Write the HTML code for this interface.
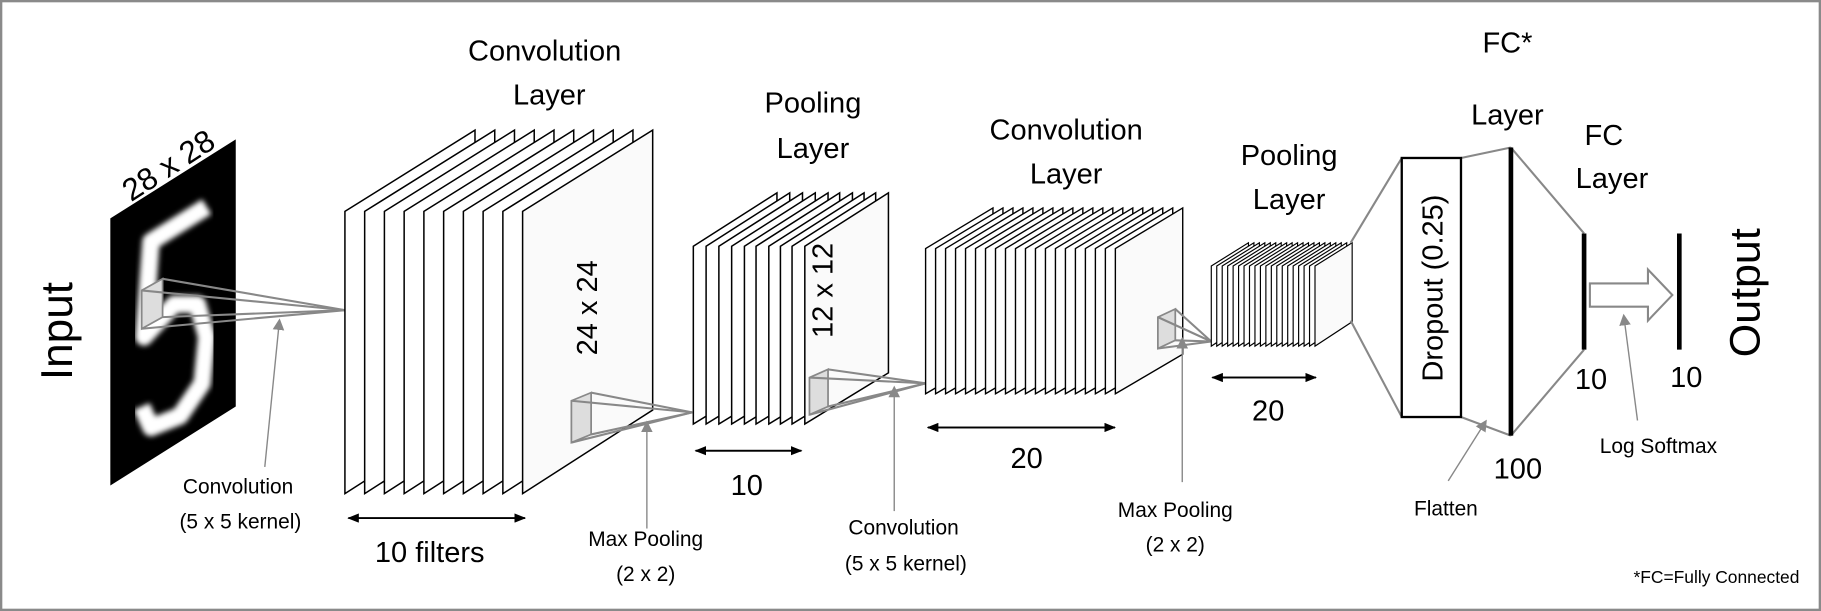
<!DOCTYPE html>
<html><head><meta charset="utf-8"><style>
html,body{margin:0;padding:0;background:#fff;}
svg{display:block;}
text{font-family:"Liberation Sans",sans-serif;fill:#000;}
</style></head><body>
<svg width="1821" height="611" viewBox="0 0 1568 526" preserveAspectRatio="none" xmlns="http://www.w3.org/2000/svg">
<defs>
<marker id="ah" markerWidth="10" markerHeight="8" refX="9" refY="4" orient="auto" markerUnits="userSpaceOnUse"><path d="M0,0 L10,4 L0,8 z" fill="#000"/></marker>
<marker id="ga" markerWidth="10" markerHeight="14" refX="2" refY="7" orient="auto" markerUnits="userSpaceOnUse"><path d="M10,7 L0,2 L0,12 z" fill="#888"/></marker>
<filter id="bl"><feGaussianBlur stdDeviation="2.2"/></filter>
<clipPath id="inclip"><polygon points="95,188 203,120 203,350 95,418"/></clipPath>
</defs>
<rect x="1" y="1" width="1566" height="524" fill="#fff" stroke="#8a8a8a" stroke-width="2"/>

<!-- Input -->
<polygon points="95,188 203,120 203,350 95,418" fill="#000"/>
<g clip-path="url(#inclip)">
<path d="M178,178 L130,208 L124,290 L150,262 L170,262 L178,290 L174,330 L155,358 L130,368 L122,350" fill="none" stroke="#fff" stroke-width="15" stroke-linejoin="round" filter="url(#bl)"/>
</g>
<text x="0" y="0" font-size="27" transform="translate(150,150) rotate(-33)" text-anchor="middle">28 x 28</text>
<text x="0" y="0" font-size="38" transform="translate(62,285) rotate(-90)" text-anchor="middle">Input</text>
<polygon points="122,250 140,240 140,273 122,283" fill="#ddd" stroke="#888" stroke-width="1.5"/>
<g stroke="#888" stroke-width="1.8" fill="none">
<line x1="122" y1="250" x2="297" y2="267"/><line x1="140" y1="240" x2="297" y2="267"/>
<line x1="140" y1="273" x2="297" y2="267"/><line x1="122" y1="283" x2="297" y2="267"/>
</g>
<line x1="228" y1="402" x2="240" y2="282" stroke="#888" stroke-width="1.2" marker-end="url(#ga)"/>
<text x="205" y="425" font-size="18" text-anchor="middle">Convolution</text>
<text x="207" y="455" font-size="18" text-anchor="middle">(5 x 5 kernel)</text>

<!-- Conv layer 1 -->
<g stroke="#000" stroke-width="1.3" fill="#fff">
<polygon points="297,182 409,112 409,353 297,425"/>
<polygon points="314,182 426,112 426,353 314,425"/>
<polygon points="331,182 443,112 443,353 331,425"/>
<polygon points="348,182 460,112 460,353 348,425"/>
<polygon points="365,182 477,112 477,353 365,425"/>
<polygon points="382,182 494,112 494,353 382,425"/>
<polygon points="399,182 511,112 511,353 399,425"/>
<polygon points="416,182 528,112 528,353 416,425"/>
<polygon points="433,182 545,112 545,353 433,425"/>
<polygon points="450,182 562,112 562,353 450,425" fill="#fafafa"/>
</g>
<text x="469" y="52" font-size="25" text-anchor="middle">Convolution</text>
<text x="473" y="90" font-size="25" text-anchor="middle">Layer</text>
<text x="0" y="0" font-size="25" transform="translate(514,265) rotate(-90)" text-anchor="middle">24 x 24</text>
<line x1="300" y1="446" x2="452" y2="446" stroke="#000" stroke-width="1.5" marker-end="url(#ah)"/>
<line x1="452" y1="446" x2="300" y2="446" stroke="#000" stroke-width="1.5" marker-end="url(#ah)"/>
<text x="370" y="484" font-size="25" text-anchor="middle">10 filters</text>

<polygon points="492,345 509,338 509,374 492,381" fill="#ddd" stroke="#888" stroke-width="1.5"/>
<g stroke="#888" stroke-width="1.8">
<line x1="492" y1="345" x2="596" y2="355"/><line x1="509" y1="338" x2="596" y2="355"/>
<line x1="509" y1="374" x2="596" y2="355"/><line x1="492" y1="381" x2="596" y2="355"/>
</g>
<line x1="557" y1="455" x2="557" y2="370" stroke="#888" stroke-width="1.2" marker-end="url(#ga)"/>
<text x="556" y="470" font-size="18" text-anchor="middle">Max Pooling</text>
<text x="556" y="500" font-size="18" text-anchor="middle">(2 x 2)</text>

<!-- Pool layer 1 -->
<g stroke="#000" stroke-width="1.3" fill="#fff">
<polygon points="597,212 669,166 669,321 597,365"/>
<polygon points="608,212 680,166 680,321 608,365"/>
<polygon points="619,212 691,166 691,321 619,365"/>
<polygon points="630,212 702,166 702,321 630,365"/>
<polygon points="641,212 713,166 713,321 641,365"/>
<polygon points="651,212 723,166 723,321 651,365"/>
<polygon points="662,212 734,166 734,321 662,365"/>
<polygon points="672,212 744,166 744,321 672,365"/>
<polygon points="682,212 754,166 754,321 682,365"/>
<polygon points="693,212 765,166 765,321 693,365" fill="#fafafa"/>
</g>
<text x="700" y="97" font-size="25" text-anchor="middle">Pooling</text>
<text x="700" y="136" font-size="25" text-anchor="middle">Layer</text>
<text x="0" y="0" font-size="25" transform="translate(717,250) rotate(-90)" text-anchor="middle">12 x 12</text>
<line x1="599" y1="388" x2="690" y2="388" stroke="#000" stroke-width="1.5" marker-end="url(#ah)"/>
<line x1="690" y1="388" x2="599" y2="388" stroke="#000" stroke-width="1.5" marker-end="url(#ah)"/>
<text x="643" y="426" font-size="25" text-anchor="middle">10</text>

<polygon points="697,325 713,318 713,350 697,357" fill="#ddd" stroke="#888" stroke-width="1.5"/>
<g stroke="#888" stroke-width="1.8">
<line x1="697" y1="325" x2="797" y2="330"/><line x1="713" y1="318" x2="797" y2="330"/>
<line x1="713" y1="350" x2="797" y2="330"/><line x1="697" y1="357" x2="797" y2="330"/>
</g>
<line x1="770" y1="440" x2="770" y2="340" stroke="#888" stroke-width="1.2" marker-end="url(#ga)"/>
<text x="778" y="460" font-size="18" text-anchor="middle">Convolution</text>
<text x="780" y="491" font-size="18" text-anchor="middle">(5 x 5 kernel)</text>

<g stroke="#000" stroke-width="1.2" fill="#fff" id="c2"></g>
<text x="918" y="120" font-size="25" text-anchor="middle">Convolution</text>
<text x="918" y="158" font-size="25" text-anchor="middle">Layer</text>
<line x1="799" y1="368" x2="960" y2="368" stroke="#000" stroke-width="1.5" marker-end="url(#ah)"/>
<line x1="960" y1="368" x2="799" y2="368" stroke="#000" stroke-width="1.5" marker-end="url(#ah)"/>
<text x="884" y="403" font-size="25" text-anchor="middle">20</text>

<polygon points="997,273 1012,266 1012,293 997,300" fill="#ddd" stroke="#888" stroke-width="1.5"/>
<g stroke="#888" stroke-width="1.8">
<line x1="997" y1="273" x2="1043" y2="294"/><line x1="1012" y1="266" x2="1043" y2="294"/>
<line x1="1012" y1="293" x2="1043" y2="294"/><line x1="997" y1="300" x2="1043" y2="294"/>
</g>
<line x1="1018" y1="415" x2="1018" y2="298" stroke="#888" stroke-width="1.2" marker-end="url(#ga)"/>
<text x="1012" y="445" font-size="18" text-anchor="middle">Max Pooling</text>
<text x="1012" y="475" font-size="18" text-anchor="middle">(2 x 2)</text>

<g stroke="#000" stroke-width="1" fill="#fff" id="p2"></g>
<text x="1110" y="142" font-size="25" text-anchor="middle">Pooling</text>
<text x="1110" y="180" font-size="25" text-anchor="middle">Layer</text>
<line x1="1044" y1="325" x2="1133" y2="325" stroke="#000" stroke-width="1.5" marker-end="url(#ah)"/>
<line x1="1133" y1="325" x2="1044" y2="325" stroke="#000" stroke-width="1.5" marker-end="url(#ah)"/>
<text x="1092" y="362" font-size="25" text-anchor="middle">20</text>

<g stroke="#888" stroke-width="1.8">
<line x1="1163" y1="209" x2="1207" y2="136"/><line x1="1163" y1="276" x2="1207" y2="359"/>
<line x1="1258" y1="136" x2="1301" y2="127"/><line x1="1258" y1="359" x2="1301" y2="375"/>
<line x1="1301" y1="127" x2="1364" y2="201"/><line x1="1301" y1="375" x2="1364" y2="301"/>
</g>
<rect x="1207" y="136" width="51" height="223" fill="#fff" stroke="#000" stroke-width="2"/>
<text x="0" y="0" font-size="25" transform="translate(1242,248) rotate(-90)" text-anchor="middle">Dropout (0.25)</text>
<line x1="1301" y1="127" x2="1301" y2="375" stroke="#000" stroke-width="4"/>
<line x1="1364" y1="201" x2="1364" y2="301" stroke="#000" stroke-width="4"/>
<line x1="1446" y1="201" x2="1446" y2="301" stroke="#000" stroke-width="4"/>
<text x="1298" y="45" font-size="25" text-anchor="middle">FC*</text>
<text x="1298" y="107" font-size="25" text-anchor="middle">Layer</text>
<text x="1381" y="125" font-size="25" text-anchor="middle">FC</text>
<text x="1388" y="162" font-size="25" text-anchor="middle">Layer</text>
<text x="1307" y="412" font-size="25" text-anchor="middle">100</text>
<text x="1370" y="335" font-size="25" text-anchor="middle">10</text>
<text x="1452" y="333" font-size="25" text-anchor="middle">10</text>
<text x="0" y="0" font-size="37" transform="translate(1515,252) rotate(-90)" text-anchor="middle">Output</text>
<polygon points="1369,244 1419,244 1419,232 1440,254 1419,276 1419,264 1369,264" fill="#fff" stroke="#888" stroke-width="1.8"/>
<line x1="1247" y1="414" x2="1276" y2="368" stroke="#888" stroke-width="1.2" marker-end="url(#ga)"/>
<text x="1245" y="444" font-size="18" text-anchor="middle">Flatten</text>
<line x1="1410" y1="362" x2="1399" y2="278" stroke="#888" stroke-width="1.2" marker-end="url(#ga)"/>
<text x="1428" y="390" font-size="18" text-anchor="middle">Log Softmax</text>
<text x="1478" y="502" font-size="15" text-anchor="middle">*FC=Fully Connected</text>
</svg>
<script>
(function(){
var ns="http://www.w3.org/2000/svg";
var c2=document.getElementById("c2");
for(var i=0;i<20;i++){var x=797+i*8.6;var p=document.createElementNS(ns,"polygon");
p.setAttribute("points",x+",214 "+(x+58)+",179 "+(x+58)+",305 "+x+",339");
if(i==19)p.setAttribute("fill","#fafafa");c2.appendChild(p);}
var p2=document.getElementById("p2");
for(var j=0;j<20;j++){var y=1043+j*4.7;var q=document.createElementNS(ns,"polygon");
q.setAttribute("points",y+",229 "+(y+32)+",209 "+(y+32)+",277 "+y+",298");
if(j==19)q.setAttribute("fill","#fafafa");p2.appendChild(q);}
})();
</script>
</body></html>
